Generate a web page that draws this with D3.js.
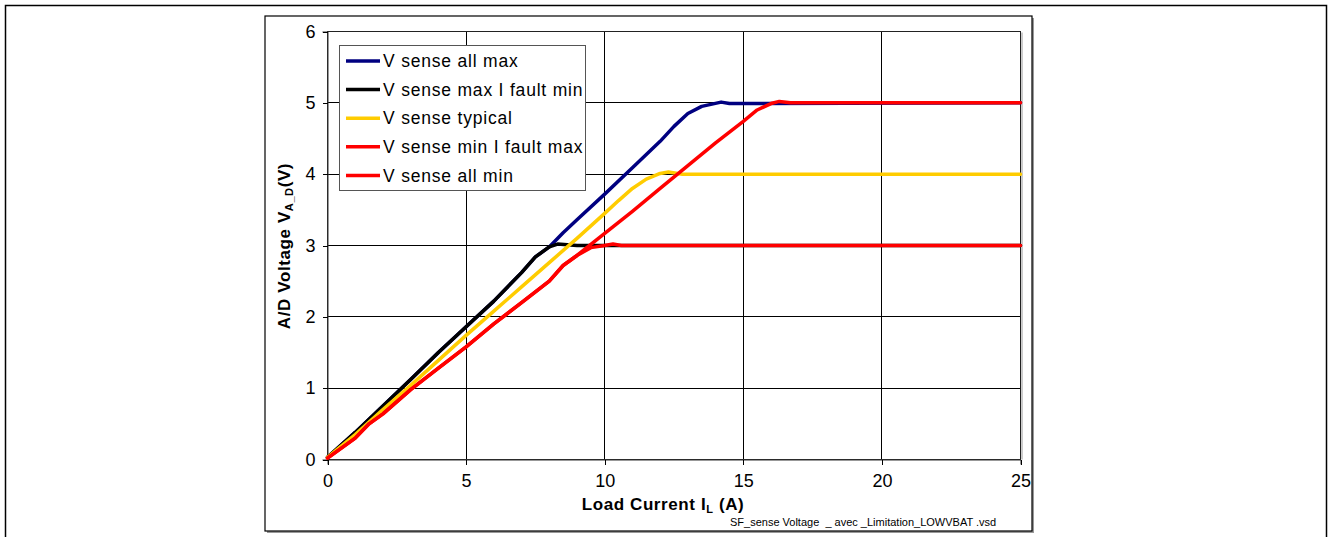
<!DOCTYPE html>
<html>
<head>
<meta charset="utf-8">
<script src="https://cdn.jsdelivr.net/npm/d3@7/dist/d3.min.js"></script>
<style>
  html, body { margin: 0; padding: 0; background: #fff; }
  svg { display: block; font-family: "Liberation Sans", Arial, sans-serif; }
</style>
</head>
<body>
<svg id="chart" width="1330" height="537"></svg>
<script>
// Load current (A) / A/D voltage (V) pairs for each sense curve
const allMaxI   = [0, 1, 2, 3, 4, 5, 6, 7, 7.5, 8, 8.5, 9, 10, 11, 12, 12.5, 13, 13.5, 14.2, 14.5, 25];
const allMaxV   = [0.03, 0.38, 0.75, 1.12, 1.5, 1.86, 2.22, 2.62, 2.84, 2.98, 3.18, 3.36, 3.72, 4.09, 4.46, 4.67, 4.85, 4.95, 5.01, 4.99, 5.0];

const maxFaultMinI = [0, 1, 2, 3, 4, 5, 6, 7, 7.5, 8, 8.3, 9, 10, 25];
const maxFaultMinV = [0.03, 0.38, 0.75, 1.12, 1.5, 1.86, 2.22, 2.62, 2.84, 2.98, 3.02, 3.0, 3.0, 3.0];

const typicalI  = [0, 1, 2, 3, 4, 5, 6, 7, 8, 9, 10, 10.5, 11, 11.5, 12, 12.3, 12.8, 25];
const typicalV  = [0.03, 0.35, 0.7, 1.04, 1.39, 1.74, 2.08, 2.42, 2.76, 3.1, 3.45, 3.63, 3.8, 3.93, 4.01, 4.03, 4.0, 4.0];

const minFaultMaxI = [0, 1, 1.5, 2, 3, 4, 5, 6, 7, 8, 8.5, 9, 10, 11, 12, 13, 14, 15, 15.5, 16, 16.3, 16.7, 25];
const minFaultMaxV = [0.02, 0.3, 0.5, 0.64, 0.98, 1.28, 1.58, 1.9, 2.2, 2.5, 2.72, 2.86, 3.17, 3.48, 3.8, 4.12, 4.44, 4.74, 4.9, 4.99, 5.02, 5.0, 5.0];

const allMinI   = [0, 1, 1.5, 2, 3, 4, 5, 6, 7, 8, 8.5, 9, 9.5, 10, 10.3, 10.6, 25];
const allMinV   = [0.02, 0.3, 0.5, 0.64, 0.98, 1.28, 1.58, 1.9, 2.2, 2.5, 2.72, 2.86, 2.97, 3.0, 3.02, 3.0, 3.0];

const seriesNames  = ["V sense all max", "V sense max I fault min", "V sense typical", "V sense min I fault max", "V sense all min"];
const seriesColors = ["#000080", "#000000", "#FFCC00", "#FF0000", "#FF0000"];
const seriesI = [allMaxI, maxFaultMinI, typicalI, minFaultMaxI, allMinI];
const seriesV = [allMaxV, maxFaultMinV, typicalV, minFaultMaxV, allMinV];

const xTicks = [0, 5, 10, 15, 20, 25];
const yTicks = [0, 1, 2, 3, 4, 5, 6];

const svg = d3.select("#chart");

// Outer page frame and the chart frame with its drop shadow
svg.append("path")
  .attr("d", "M5.5,537 V5.5 H1326.5 V537")
  .attr("fill", "none").attr("stroke", "#000").attr("stroke-width", 1.5);

svg.append("rect").attr("x", 267).attr("y", 18).attr("width", 767).attr("height", 515)
  .attr("fill", "#999");
svg.append("rect").attr("x", 265).attr("y", 16).attr("width", 767).attr("height", 515)
  .attr("fill", "#fff").attr("stroke", "#000").attr("stroke-width", 1.2);

const plot = { left: 327.5, right: 1020.5, top: 31.5, bottom: 459.5 };
const x = d3.scaleLinear().domain([0, 25]).range([plot.left, plot.right]);
const y = d3.scaleLinear().domain([0, 6]).range([plot.bottom, plot.top]);

// Gridlines
const grid = svg.append("g").attr("shape-rendering", "crispEdges");
grid.selectAll(".gx").data(xTicks.slice(1, -1)).join("line")
  .attr("x1", d => x(d)).attr("x2", d => x(d))
  .attr("y1", plot.top).attr("y2", plot.bottom)
  .attr("stroke", "#000").attr("stroke-width", 1);
grid.selectAll(".gy").data(yTicks.slice(1, -1)).join("line")
  .attr("y1", d => y(d)).attr("y2", d => y(d))
  .attr("x1", plot.left).attr("x2", plot.right)
  .attr("stroke", "#000").attr("stroke-width", 1);

// Plot border (right edge with a soft grey shadow)
svg.append("line").attr("x1", plot.right + 1.5).attr("x2", plot.right + 1.5)
  .attr("y1", plot.top + 1).attr("y2", plot.bottom)
  .attr("stroke", "#999").attr("stroke-width", 1);
svg.append("rect").attr("x", plot.left).attr("y", plot.top)
  .attr("width", plot.right - plot.left).attr("height", plot.bottom - plot.top)
  .attr("fill", "none").attr("stroke", "#222").attr("stroke-width", 1)
  .attr("shape-rendering", "crispEdges");

// Axes
const xAxis = d3.axisBottom(x).tickValues(xTicks).tickSize(5).tickPadding(10).tickFormat(d3.format("d"));
const yAxis = d3.axisLeft(y).tickValues(yTicks).tickSize(5).tickPadding(7).tickFormat(d3.format("d"));

const gx = svg.append("g").attr("transform", `translate(0,${plot.bottom})`).call(xAxis);
const gy = svg.append("g").attr("transform", `translate(${plot.left},0)`).call(yAxis);
[gx, gy].forEach(g => {
  g.select(".domain").attr("stroke", "#333");
  g.selectAll(".tick line").attr("stroke", "#000").attr("shape-rendering", "crispEdges");
  g.selectAll(".tick text").attr("font-size", 18).attr("fill", "#000")
    .attr("font-family", "Liberation Sans, Arial, sans-serif");
});

// Curves
const line = d3.line().x(d => x(d[0])).y(d => y(d[1])).curve(d3.curveLinear);
seriesNames.forEach((name, i) => {
  const pts = seriesI[i].map((v, k) => [v, seriesV[i][k]]);
  svg.append("path").datum(pts)
    .attr("d", line)
    .attr("fill", "none")
    .attr("stroke", seriesColors[i])
    .attr("stroke-width", 3.5)
    .attr("stroke-linejoin", "round")
    .attr("stroke-linecap", "round");
});

// Legend
const lg = svg.append("g").attr("transform", "translate(339,45)");
lg.append("rect").attr("x", 0.5).attr("y", 0.5).attr("width", 246).attr("height", 145)
  .attr("fill", "#fff").attr("stroke", "#555").attr("stroke-width", 1);
seriesNames.forEach((name, i) => {
  const cy = 16 + i * 28.6;
  lg.append("line").attr("x1", 7).attr("x2", 41).attr("y1", cy).attr("y2", cy)
    .attr("stroke", seriesColors[i]).attr("stroke-width", 3.5);
  lg.append("text").attr("x", 44).attr("y", cy).attr("dy", "0.35em")
    .attr("font-size", 17.5).attr("letter-spacing", 0.8).attr("fill", "#000").text(name);
});

// Axis titles
const xt = svg.append("text").attr("x", 663).attr("y", 510)
  .attr("text-anchor", "middle").attr("font-size", 17).attr("letter-spacing", 0.6)
  .attr("font-weight", "bold").attr("fill", "#000");
xt.append("tspan").text("Load Current I");
xt.append("tspan").attr("font-size", 11).attr("dy", 3).text("L");
xt.append("tspan").attr("dy", -3).text(" (A)");

const yt = svg.append("text")
  .attr("transform", "translate(290,246) rotate(-90)")
  .attr("text-anchor", "middle").attr("font-size", 17).attr("letter-spacing", 0.6)
  .attr("font-weight", "bold").attr("fill", "#000");
yt.append("tspan").text("A/D Voltage  V");
yt.append("tspan").attr("font-size", 11).attr("dy", 3).text("A_D");
yt.append("tspan").attr("dy", -3).text("(V)");

// Source file caption
svg.append("text").attr("x", 730).attr("y", 526)
  .attr("font-size", 11).attr("fill", "#000")
  .attr("xml:space", "preserve").style("white-space", "pre")
  .text("SF_sense Voltage  _ avec _Limitation_LOWVBAT .vsd");
</script>
</body>
</html>
